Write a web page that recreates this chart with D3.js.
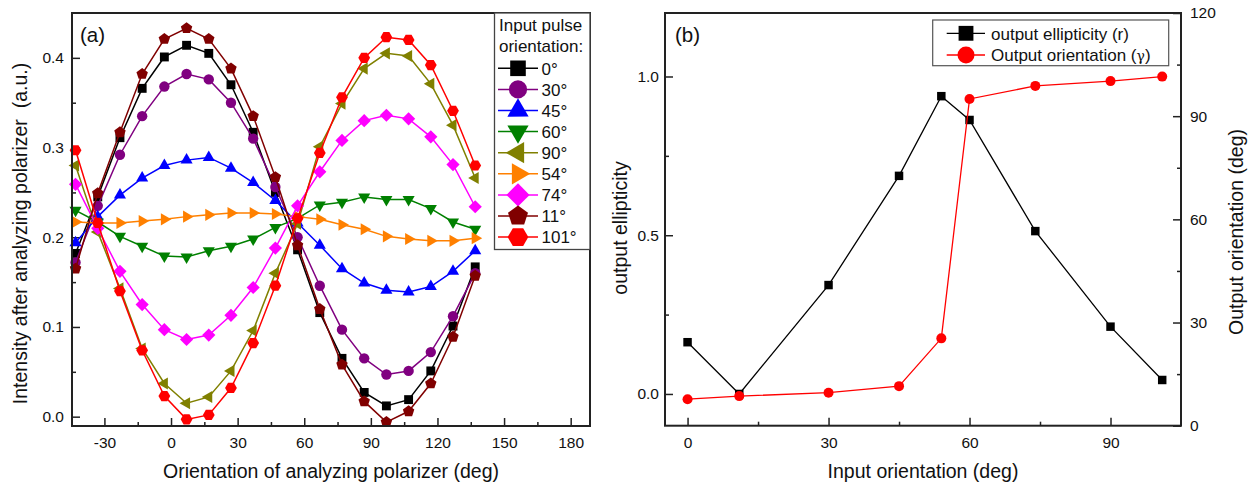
<!DOCTYPE html>
<html><head><meta charset="utf-8">
<script src="https://cdn.jsdelivr.net/npm/d3@7"></script>
<style>
html,body{margin:0;padding:0;background:#fff;}
text{font-family:"Liberation Sans",Arial,sans-serif;fill:#111;}
</style></head>
<body>
<svg id="chart" width="1258" height="486"></svg>
<script>
// ---------- DATA (panel a) ----------
const polarizerAngles = [-43,-33,-23,-13,-3,7,17,27,37,47,57,67,77,87,97,107,117,127,137];
const series0   = [0.182,0.245,0.311,0.366,0.401,0.414,0.405,0.370,0.317,0.250,0.186,0.116,0.065,0.027,0.012,0.019,0.051,0.101,0.167];
const series30  = [0.172,0.235,0.292,0.335,0.368,0.382,0.376,0.350,0.310,0.256,0.200,0.146,0.097,0.065,0.047,0.051,0.072,0.112,0.160];
const series45  = [0.194,0.223,0.247,0.266,0.280,0.286,0.289,0.277,0.261,0.241,0.216,0.191,0.165,0.149,0.141,0.139,0.145,0.162,0.185];
const series60  = [0.230,0.217,0.201,0.190,0.179,0.178,0.185,0.190,0.198,0.211,0.221,0.236,0.239,0.245,0.242,0.242,0.232,0.217,0.209];
const series90  = [0.280,0.206,0.143,0.076,0.037,0.015,0.022,0.051,0.096,0.160,0.215,0.301,0.349,0.388,0.405,0.402,0.371,0.325,0.266];
const series54  = [0.217,0.216,0.216,0.218,0.220,0.223,0.225,0.227,0.227,0.226,0.223,0.220,0.214,0.209,0.201,0.198,0.196,0.196,0.199];
const series74  = [0.259,0.210,0.162,0.125,0.097,0.086,0.091,0.113,0.144,0.188,0.235,0.273,0.308,0.330,0.336,0.332,0.312,0.281,0.234];
const series11  = [0.165,0.249,0.317,0.382,0.421,0.433,0.421,0.388,0.335,0.267,0.191,0.120,0.058,0.017,-0.006,0.006,0.037,0.089,0.157];
const series101 = [0.297,0.216,0.140,0.074,0.023,-0.003,0.002,0.032,0.082,0.146,0.221,0.294,0.356,0.400,0.423,0.420,0.392,0.341,0.280];
const legendLabelsA = ["0°","30°","45°","60°","90°","54°","74°","11°","101°"];
const xTicksA = [-30,0,30,60,90,120,150,180];
const yTicksA = [0.0,0.1,0.2,0.3,0.4];

// ---------- DATA (panel b) ----------
const inputOrientation = [0,11,30,45,54,60,74,90,101];
const ellipticity = [0.163,0.0,0.343,0.687,0.938,0.863,0.513,0.212,0.044];
const outOrientation = [7.7,8.6,9.6,11.5,25.4,95.0,98.8,100.2,101.5];
const legendLabelsB = ["output ellipticity (r)","Output orientation ("];
const xTicksB = [0,30,60,90];
const yTicksBL = [0.0,0.5,1.0];
const yTicksBR = [0,30,60,90,120];

// ---------- helpers ----------
const svg = d3.select("#chart");
svg.append("rect").attr("width",1258).attr("height",486).attr("fill","#fff");

function poly(n, r, rot){
  const pts=[];
  for(let k=0;k<n;k++){const a=rot+2*Math.PI*k/n; pts.push([r*Math.sin(a),-r*Math.cos(a)]);}
  return "M"+pts.map(p=>p[0].toFixed(2)+","+p[1].toFixed(2)).join("L")+"Z";
}
function circ(r){return `M${-r},0A${r},${r} 0 1,0 ${r},0A${r},${r} 0 1,0 ${-r},0Z`;}
const shapes = {
  square:(s)=>poly(4,6.3*s,Math.PI/4),
  circle:(s)=>circ(5.2*s),
  up:(s)=>poly(3,7*s,0),
  down:(s)=>poly(3,7*s,Math.PI),
  left:(s)=>poly(3,7*s,-Math.PI/2),
  right:(s)=>poly(3,7*s,Math.PI/2),
  diamond:(s)=>poly(4,6.6*s,0),
  pentagon:(s)=>poly(5,6*s,0),
  hexagon:(s)=>poly(6,5.9*s,Math.PI/2)
};

const seriesA = [
  {vals:series0,  color:"#000000", shape:"square"},
  {vals:series30, color:"#800080", shape:"circle"},
  {vals:series45, color:"#0000ff", shape:"up"},
  {vals:series60, color:"#008000", shape:"down"},
  {vals:series90, color:"#808000", shape:"left"},
  {vals:series54, color:"#ff8000", shape:"right"},
  {vals:series74, color:"#ff00ff", shape:"diamond"},
  {vals:series11, color:"#800000", shape:"pentagon"},
  {vals:series101,color:"#ff0000", shape:"hexagon"}
];

function styleAxis(g){
  g.select(".domain").remove();
  g.selectAll(".tick line").attr("stroke","#222").attr("stroke-width",1.5);
  g.selectAll(".tick text").style("font-size","15.5px").attr("fill","#111");
}
const intFmt = d=>String(d);

// ---------- PANEL A ----------
const xA = d3.scaleLinear().domain([-44.6,188.7]).range([72,590]);
const yA = d3.scaleLinear().domain([-0.0104,0.450]).range([426,13]);

const gA = svg.append("g");
const minorXA = d3.range(-45,190,15).filter(v=>v%30!==0 && xA(v)>72 && xA(v)<590);
const minorYA = [0.05,0.15,0.25,0.35];

gA.append("g").attr("transform","translate(0,426)")
  .call(d3.axisBottom(xA).tickValues(xTicksA).tickSize(-8).tickPadding(11).tickFormat(intFmt))
  .call(styleAxis);
gA.append("g").attr("transform","translate(0,426)")
  .call(d3.axisBottom(xA).tickValues(minorXA).tickSize(-4).tickFormat(""))
  .call(styleAxis);
gA.append("g").attr("transform","translate(72,0)")
  .call(d3.axisLeft(yA).tickValues(yTicksA).tickSize(-8).tickPadding(8).tickFormat(d3.format(".1f")))
  .call(styleAxis);
gA.append("g").attr("transform","translate(72,0)")
  .call(d3.axisLeft(yA).tickValues(minorYA).tickSize(-4).tickFormat(""))
  .call(styleAxis);

const lineA = d3.line().x((d,i)=>xA(polarizerAngles[i])).y(d=>yA(d));
const plotA = gA.append("g");
seriesA.forEach(s=>{
  plotA.append("path").attr("d",lineA(s.vals)).attr("fill","none").attr("stroke",s.color).attr("stroke-width",1.5);
  plotA.selectAll(null).data(s.vals).enter().append("path")
    .attr("d",shapes[s.shape](1))
    .attr("transform",(d,i)=>`translate(${xA(polarizerAngles[i])},${yA(d)})`)
    .attr("fill",s.color);
});

gA.append("rect").attr("x",72).attr("y",13).attr("width",518).attr("height",413)
  .attr("fill","none").attr("stroke","#222").attr("stroke-width",2);

// legend A
const legA = gA.append("g");
legA.append("rect").attr("x",494.5).attr("y",13).attr("width",95.5).attr("height",236.5)
  .attr("fill","#fff").attr("stroke","#444").attr("stroke-width",1.3);
legA.append("text").attr("x",499).attr("y",31).style("font-size","17px").text("Input pulse");
legA.append("text").attr("x",499).attr("y",52).style("font-size","17px").text("orientation:");
seriesA.forEach((s,i)=>{
  const cy = 68.3 + i*21.1;
  legA.append("line").attr("x1",498).attr("x2",538).attr("y1",cy).attr("y2",cy)
    .attr("stroke",s.color).attr("stroke-width",1.5);
  legA.append("path").attr("d",shapes[s.shape](1.75)).attr("transform",`translate(518,${cy})`).attr("fill",s.color);
  legA.append("text").attr("x",541.5).attr("y",cy+6.2).style("font-size","17px").text(legendLabelsA[i]);
});

gA.append("text").attr("x",80).attr("y",42).style("font-size","20.5px").text("(a)");
gA.append("text").attr("x",331).attr("y",478).attr("text-anchor","middle").style("font-size","19.5px")
  .text("Orientation of analyzing polarizer (deg)");
gA.append("text").attr("transform","translate(27,233.5) rotate(-90)").attr("text-anchor","middle")
  .style("font-size","19.5px").style("white-space","pre")
  .text("Intensity after analyzing polarizer  (a.u.)");

// ---------- PANEL B ----------
const xB = d3.scaleLinear().domain([-4.8,105]).range([665,1181]);
const yBL = d3.scaleLinear().domain([-0.1,1.2]).range([425.7,13]);
const yBR = d3.scaleLinear().domain([0,120]).range([425.7,13]);
const gB = svg.append("g");

gB.append("g").attr("transform","translate(0,425.7)")
  .call(d3.axisBottom(xB).tickValues(xTicksB).tickSize(-8).tickPadding(11).tickFormat(intFmt))
  .call(styleAxis);
gB.append("g").attr("transform","translate(0,425.7)")
  .call(d3.axisBottom(xB).tickValues([15,45,75]).tickSize(-4).tickFormat(""))
  .call(styleAxis);
gB.append("g").attr("transform","translate(665,0)")
  .call(d3.axisLeft(yBL).tickValues(yTicksBL).tickSize(-8).tickPadding(6).tickFormat(d3.format(".1f")))
  .call(styleAxis);
gB.append("g").attr("transform","translate(665,0)")
  .call(d3.axisLeft(yBL).tickValues([0.25,0.75]).tickSize(-4).tickFormat(""))
  .call(styleAxis);
gB.append("g").attr("transform","translate(1181,0)")
  .call(d3.axisRight(yBR).tickValues(yTicksBR).tickSize(-8).tickPadding(9).tickFormat(intFmt))
  .call(styleAxis);
gB.append("g").attr("transform","translate(1181,0)")
  .call(d3.axisRight(yBR).tickValues([15,45,75,105]).tickSize(-4).tickFormat(""))
  .call(styleAxis);

const lineE = d3.line().x((d,i)=>xB(inputOrientation[i])).y(d=>yBL(d));
const lineO = d3.line().x((d,i)=>xB(inputOrientation[i])).y(d=>yBR(d));
gB.append("path").attr("d",lineE(ellipticity)).attr("fill","none").attr("stroke","#000").attr("stroke-width",1.3);
gB.selectAll(null).data(ellipticity).enter().append("path")
  .attr("d",poly(4,6,Math.PI/4))
  .attr("transform",(d,i)=>`translate(${xB(inputOrientation[i])},${yBL(d)})`).attr("fill","#000");
gB.append("path").attr("d",lineO(outOrientation)).attr("fill","none").attr("stroke","#ff0000").attr("stroke-width",1.3);
gB.selectAll(null).data(outOrientation).enter().append("path")
  .attr("d",circ(5))
  .attr("transform",(d,i)=>`translate(${xB(inputOrientation[i])},${yBR(d)})`).attr("fill","#ff0000");

gB.append("rect").attr("x",665).attr("y",13).attr("width",516).attr("height",412.7)
  .attr("fill","none").attr("stroke","#222").attr("stroke-width",2);

// legend B
const legB = gB.append("g");
legB.append("rect").attr("x",932.7).attr("y",20).attr("width",236).attr("height",45.7)
  .attr("fill","#fff").attr("stroke","#555").attr("stroke-width",1.2);
legB.append("line").attr("x1",946.7).attr("x2",985).attr("y1",33.3).attr("y2",33.3).attr("stroke","#000").attr("stroke-width",1.3);
legB.append("path").attr("d",poly(4,10.5,Math.PI/4)).attr("transform","translate(966,33.3)").attr("fill","#000");
legB.append("text").attr("x",991).attr("y",39.5).style("font-size","17px").text(legendLabelsB[0]);
legB.append("line").attr("x1",946.7).attr("x2",985).attr("y1",55).attr("y2",55).attr("stroke","#ff0000").attr("stroke-width",1.3);
legB.append("path").attr("d",circ(8.5)).attr("transform","translate(966,55)").attr("fill","#ff0000");
const t2 = legB.append("text").attr("x",991).attr("y",61.2).style("font-size","17px");
t2.append("tspan").text(legendLabelsB[1]);
t2.append("tspan").style("font-family","'DejaVu Serif',serif").style("font-size","14px").text("γ");
t2.append("tspan").text(")");

gB.append("text").attr("x",675).attr("y",42).style("font-size","20.5px").text("(b)");
gB.append("text").attr("x",923).attr("y",478).attr("text-anchor","middle").style("font-size","19.5px")
  .text("Input orientation (deg)");
gB.append("text").attr("transform","translate(627,228) rotate(-90)").attr("text-anchor","middle")
  .style("font-size","19.5px").text("output ellipticity");
gB.append("text").attr("transform","translate(1243,232) rotate(-90)").attr("text-anchor","middle")
  .style("font-size","19.5px").text("Output orientation (deg)");
</script>
</body></html>
